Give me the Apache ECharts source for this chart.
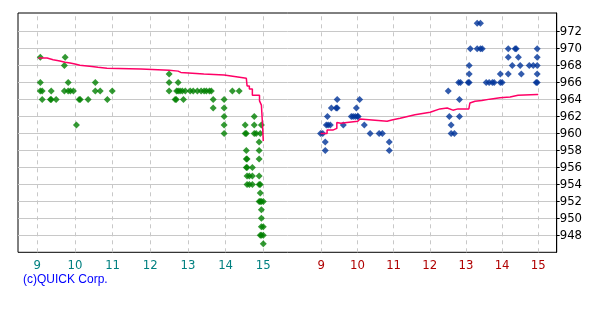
<!DOCTYPE html>
<html><head><meta charset="utf-8">
<script src="https://cdn.jsdelivr.net/npm/echarts@6/dist/echarts.min.js"></script>
<style>html,body{margin:0;padding:0;background:#fff}#c{width:600px;height:320px}</style>
</head><body><div id="c"></div>
<script>
// tick labels
const hourTicks = [9, 10, 11, 12, 13, 14, 15];
const priceTicks = [948, 950, 952, 954, 956, 958, 960, 962, 964, 966, 968, 970, 972];
const copyright = '(c)QUICK Corp.';

// day 1 trades: [hour, price]
const day1Trades = [
  [9.08,969],[9.74,969],[9.72,968],[12.50,967],
  [9.08,966],[9.82,966],[10.54,966],[12.50,966],[12.74,966],
  [9.08,965],[9.13,965],[9.37,965],[9.72,965],[9.82,965],[9.88,965],[9.96,965],[10.54,965],[10.67,965],[10.99,965],
  [12.50,965],[12.70,965],[12.74,965],[12.79,965],[12.85,965],[12.93,965],[13.06,965],[13.14,965],[13.25,965],
  [13.35,965],[13.43,965],[13.49,965],[13.57,965],[13.62,965],[14.18,965],[14.36,965],
  [9.13,964],[9.35,964],[9.37,964],[9.50,964],[10.11,964],[10.14,964],[10.35,964],[10.86,964],[12.66,964],[12.69,964],[12.88,964],[13.67,964],[13.96,964],
  [13.67,963],[13.96,963],
  [13.96,962],[14.76,962],
  [10.04,961],[13.96,961],[14.52,961],[14.76,961],[14.95,961],
  [13.96,960],[14.52,960],[14.55,960],[14.76,960],[14.81,960],[14.92,960],
  [14.89,959],
  [14.55,958],[14.89,958],
  [14.55,957],[14.57,957],[14.89,957],
  [14.55,956],[14.57,956],[14.71,956],
  [14.57,955],[14.63,955],[14.71,955],[14.89,955],
  [14.57,954],[14.63,954],[14.71,954],[14.89,954],[14.92,954],
  [14.92,953],
  [14.89,952],[14.92,952],[14.95,952],[15.00,952],
  [14.95,951],[14.95,950],
  [14.95,949],[15.00,949],
  [14.92,948],[14.95,948],[15.00,948],
  [15.00,947]
];

// day 1 average line: [hour, price]
const day1Average = [
  [9.03,968.9],[9.26,968.7],[9.42,968.55],[9.60,968.4],[9.74,968.3],[9.87,968.2],[10.00,968.05],[10.13,967.9],
  [10.45,967.8],[10.61,967.7],[10.85,967.6],[11.75,967.45],[12.50,967.35],[12.74,967.2],[12.81,967.0],[13.42,966.9],
  [13.96,966.7],[14.28,966.5],[14.55,966.3],[14.57,965.6],[14.63,965.25],[14.71,964.5],[14.90,963.85],[14.95,963.35],
  [14.98,961.0],[15.00,959.1]
];

// day 2 trades: [hour, price]
const day2Trades = [
  [13.31,973],[13.40,973],
  [13.12,970],[13.31,970],[13.40,970],[13.45,970],[14.17,970],[14.36,970],[14.39,970],[14.97,970],
  [14.17,969],[14.45,969],[14.97,969],
  [13.09,968],[14.28,968],[14.50,968],[14.75,968],[14.86,968],[14.97,968],
  [13.09,967],[13.95,967],[14.17,967],[14.53,967],[14.97,967],
  [12.80,966],[12.85,966],[13.06,966],[13.09,966],[13.56,966],[13.64,966],[13.73,966],[13.78,966],[13.95,966],[14.00,966],[14.94,966],[14.97,966],
  [12.51,965],
  [9.44,964],[10.06,964],[12.82,964],
  [9.28,963],[9.41,963],[9.44,963],[9.97,963],
  [9.17,962],[9.83,962],[9.88,962],[9.94,962],[10.00,962],[10.02,962],[12.54,962],[12.82,962],
  [9.14,961],[9.19,961],[9.25,961],[9.61,961],[10.19,961],[12.59,961],
  [8.98,960],[9.04,960],[10.35,960],[10.60,960],[10.69,960],[12.59,960],[12.68,960],
  [9.11,959],[10.88,959],
  [9.11,958],[10.88,958]
];

// day 2 average line: [hour, price]
const day2Average = [
  [8.98,960.0],[9.16,960.0],[9.16,960.4],[9.32,960.4],[9.32,960.6],[9.43,960.6],[9.43,961.3],[9.54,961.2],
  [9.71,961.3],[10.01,961.45],[10.07,961.7],[10.82,961.45],[10.95,961.6],[11.18,961.8],[11.59,962.2],[12.01,962.5],
  [12.28,962.9],[12.48,963.0],[12.64,962.75],[12.78,962.9],[13.08,962.9],[13.11,963.6],[13.25,963.8],[13.44,963.9],
  [13.66,964.05],[13.94,964.2],[14.22,964.3],[14.44,964.5],[14.97,964.6],[15.00,964.6]
];

const labelFont = "'Liberation Sans Narrow', 'DejaVu Sans Condensed', 'Liberation Sans', sans-serif";
const gridCol = '#c8c8c8';

function xAxisFor(min, max, color) {
  return {
    type: 'value', position: 'bottom', min: min, max: max,
    axisLine: { show: false },
    axisTick: { show: false, customValues: hourTicks },
    axisLabel: { customValues: hourTicks, color: color, fontSize: 13, fontFamily: labelFont, margin: 7 },
    splitLine: { show: false }
  };
}

function hourGridSeries(axisIndex) {
  return {
    type: 'scatter', xAxisIndex: axisIndex, data: [], silent: true, z: 0,
    markLine: {
      silent: true, symbol: ['none', 'none'], animation: false, z: 0,
      label: { show: false },
      lineStyle: { color: gridCol, type: [4, 4], width: 1 },
      emphasis: { disabled: true },
      data: hourTicks.map(function (h) { return { xAxis: h }; })
    }
  };
}

const chart = echarts.init(document.getElementById('c'), null, { renderer: 'canvas' });
chart.setOption({
  animation: false,
  backgroundColor: '#fff',
  grid: { left: 18, top: 13, right: 43.3, bottom: 67.7, show: true, borderColor: '#000', borderWidth: 1, backgroundColor: '#fff', containLabel: false },
  xAxis: [
    xAxisFor(8.488, 22.79, '#008080'),
    xAxisFor(0.615, 15.509, '#b00000')
  ],
  yAxis: {
    type: 'value', position: 'right', min: 946, max: 974.2, scale: true,
    axisLine: { show: true, lineStyle: { color: '#000', width: 1 } },
    axisTick: { show: true, inside: false, length: 3, customValues: priceTicks, lineStyle: { color: '#000' } },
    axisLabel: { customValues: priceTicks, color: '#000', fontSize: 13, fontFamily: labelFont, margin: 3 },
    splitLine: { show: true, lineStyle: { color: gridCol, width: 1 } }
  },
  graphic: [{
    type: 'text', left: 23, top: 274,
    style: { text: copyright, fill: '#0000ff', font: "12px 'Liberation Sans', Arial, sans-serif" }
  }],
  series: [
    hourGridSeries(0),
    hourGridSeries(1),
    { type: 'scatter', xAxisIndex: 0, data: day1Trades, symbol: 'diamond', symbolSize: [7, 7], itemStyle: { color: '#008000' }, z: 4 },
    { type: 'scatter', xAxisIndex: 1, data: day2Trades, symbol: 'diamond', symbolSize: [7, 7], itemStyle: { color: '#003399' }, z: 4 },
    { type: 'line', xAxisIndex: 0, data: day1Average, step: 'end', showSymbol: false, symbol: 'none', lineStyle: { color: '#ff0066', width: 1.5 }, z: 6 },
    { type: 'line', xAxisIndex: 1, data: day2Average, showSymbol: false, symbol: 'none', lineStyle: { color: '#ff0066', width: 1.5 }, z: 6 }
  ]
});
</script>
</body></html>
